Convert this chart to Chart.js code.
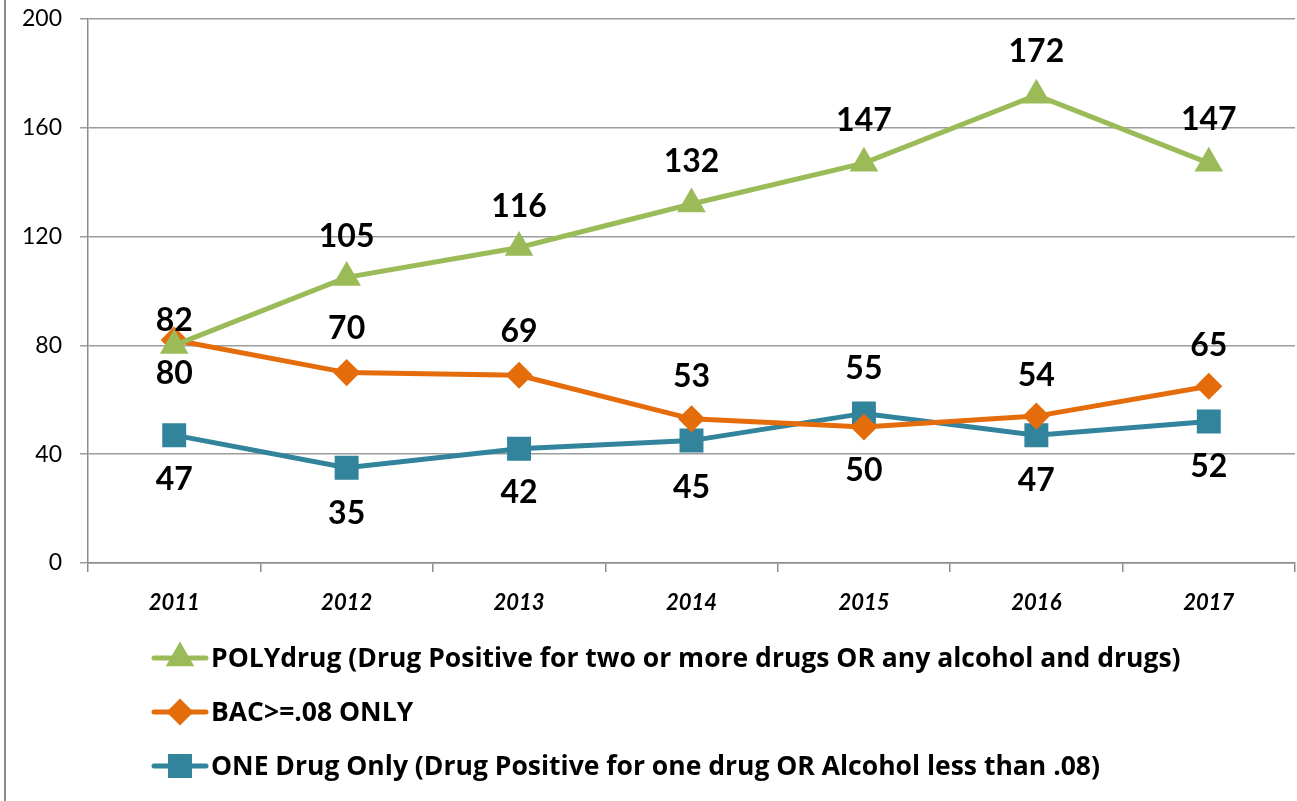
<!DOCTYPE html>
<html>
<head>
<meta charset="utf-8">
<script src="https://cdn.jsdelivr.net/npm/chart.js@4.4.0/dist/chart.umd.min.js"></script>
<style>
  html, body { margin: 0; padding: 0; background: #fff; overflow: hidden; }
  canvas { display: block; }
</style>
</head>
<body>
<canvas id="drugChart" width="1297" height="801"></canvas>
<script>
const years = ['2011', '2012', '2013', '2014', '2015', '2016', '2017'];
const polyDrug = [80, 105, 116, 132, 147, 172, 147];
const bacOnly = [82, 70, 69, 53, 50, 54, 65];
const oneDrug = [47, 35, 42, 45, 55, 47, 52];
const yTicks = [0, 40, 80, 120, 160, 200];

const FONT = 'Lato, "Open Sans", sans-serif';

// value labels next to each point, offset in px (negative = above)
const valueLabels = {
  id: 'valueLabels',
  afterDatasetsDraw(chart) {
    const ctx = chart.ctx;
    ctx.save();
    ctx.font = 'bold 32px ' + FONT;
    ctx.fillStyle = '#000';
    ctx.textAlign = 'center';
    ctx.textBaseline = 'middle';
    chart.data.datasets.forEach((ds, i) => {
      chart.getDatasetMeta(i).data.forEach((pt, j) => {
        ctx.fillText(String(ds.data[j]), pt.x, pt.y + ds.labelOffsets[j]);
      });
    });
    ctx.restore();
  }
};

// stacked legend under the plot, plus the outer left border
const stackedLegend = {
  id: 'stackedLegend',
  beforeDraw(chart) {
    const ctx = chart.ctx;
    ctx.save();
    ctx.strokeStyle = '#8c8c8c';
    ctx.lineWidth = 2;
    ctx.beginPath();
    ctx.moveTo(5, 0);
    ctx.lineTo(5, chart.height);
    ctx.stroke();
    ctx.restore();
  },
  afterDraw(chart) {
    const ctx = chart.ctx;
    ctx.save();
    ctx.font = 'bold 26.5px "Open Sans", Lato, sans-serif';
    ctx.textBaseline = 'middle';
    chart.data.datasets.forEach((ds, i) => {
      const y = 658 + i * 54;
      ctx.strokeStyle = ds.borderColor;
      ctx.lineWidth = 5;
      ctx.lineCap = 'round';
      ctx.beginPath();
      ctx.moveTo(154, y);
      ctx.lineTo(206, y);
      ctx.stroke();
      ctx.fillStyle = ds.borderColor;
      Chart.helpers.drawPoint(ctx, {
        pointStyle: ds.pointStyle, radius: ds.pointRadius, rotation: 0, borderWidth: 1
      }, 180, y);
      ctx.fillStyle = '#000';
      ctx.fillText(ds.label, 211, y + 1);
    });
    ctx.restore();
  }
};

function noPad(scale) {
  scale.paddingTop = 0;
  scale.paddingBottom = 0;
  scale.paddingLeft = 0;
  scale.paddingRight = 0;
}

const ctx = document.getElementById('drugChart').getContext('2d');
new Chart(ctx, {
  type: 'line',
  data: {
    labels: years,
    datasets: [
      {
        label: 'POLYdrug (Drug Positive for two or more drugs OR any alcohol and drugs)',
        data: polyDrug,
        borderColor: '#9bbb59',
        backgroundColor: '#9bbb59',
        borderWidth: 5,
        pointStyle: 'triangle',
        pointRadius: 11.5,
        labelOffsets: [28, -41, -41, -42, -42, -43, -43]
      },
      {
        label: 'BAC>=.08 ONLY',
        data: bacOnly,
        borderColor: '#e46c0a',
        backgroundColor: '#e46c0a',
        borderWidth: 5,
        pointStyle: 'rectRot',
        pointRadius: 10,
        labelOffsets: [-19, -44, -44, -42, 44, -40, -41]
      },
      {
        label: 'ONE Drug Only (Drug Positive for one drug OR Alcohol less than .08)',
        data: oneDrug,
        borderColor: '#31849b',
        backgroundColor: '#31849b',
        borderWidth: 5,
        pointStyle: 'rect',
        pointRadius: 13.4,
        labelOffsets: [45, 46, 44, 47, -45, 46, 45]
      }
    ]
  },
  options: {
    responsive: false,
    animation: false,
    layout: { autoPadding: false, padding: { left: 8, right: 2, top: 19, bottom: 178 } },
    plugins: { legend: { display: false }, tooltip: { enabled: false } },
    elements: { line: { tension: 0 }, point: { borderWidth: 1 } },
    scales: {
      x: {
        offset: true,
        grid: {
          offset: true,
          drawOnChartArea: false,
          drawTicks: true,
          tickLength: 9,
          color: '#8c8c8c',
          lineWidth: 1.5
        },
        border: { color: '#8c8c8c', width: 1.5 },
        ticks: {
          color: '#000',
          padding: 18,
          maxRotation: 0,
          font: { family: FONT, size: 22, weight: 'bold', style: 'italic' }
        },
        afterFit(scale) { scale.height = 60; noPad(scale); }
      },
      y: {
        min: 0,
        max: 200,
        afterBuildTicks(scale) { scale.ticks = yTicks.map(v => ({ value: v })); },
        grid: { color: '#9c9c9c', lineWidth: 1.5, tickLength: 8 },
        border: { color: '#8c8c8c', width: 1.5 },
        ticks: {
          color: '#000',
          padding: 18,
          font: { family: FONT, size: 23 }
        },
        afterFit(scale) { scale.width = 80; noPad(scale); }
      }
    }
  },
  plugins: [valueLabels, stackedLegend]
});
</script>
</body>
</html>
